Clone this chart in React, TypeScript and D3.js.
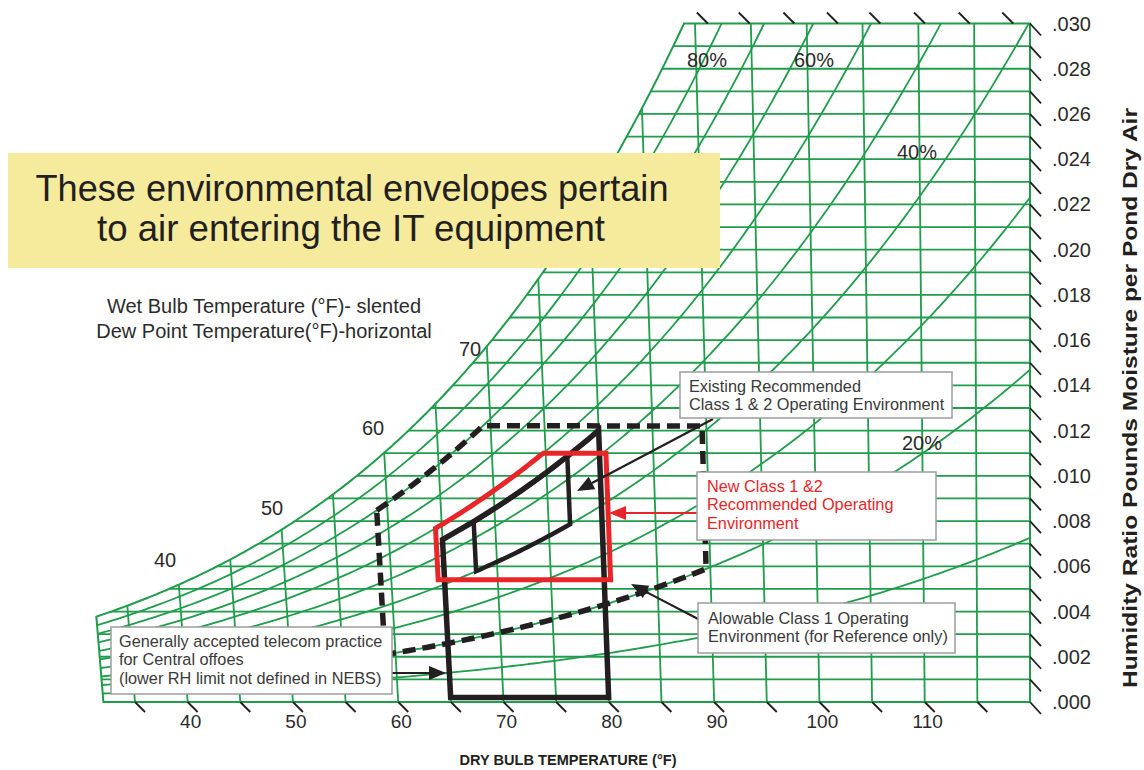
import React from 'react';
import * as d3 from 'd3';

// ---------- data ----------
const rhLevels = [0.1, 0.2, 0.3, 0.4, 0.5, 0.6, 0.7, 0.8, 0.9];
const dryBulbGrid = [35, 40, 45, 50, 55, 60, 65, 70, 75, 80, 85, 90, 95, 100, 105, 110, 115];
const humidityGrid = [
  0.001, 0.002, 0.003, 0.004, 0.005, 0.006, 0.007, 0.008, 0.009, 0.01, 0.011, 0.012, 0.013, 0.014, 0.015,
  0.016, 0.017, 0.018, 0.019, 0.02, 0.021, 0.022, 0.023, 0.024, 0.025, 0.026, 0.027, 0.028, 0.029,
];
const xTickLabels = [40, 50, 60, 70, 80, 90, 100, 110];
const bottomTickTemps = [35, 40, 45, 50, 55, 60, 65, 70, 75, 80, 85, 90, 95, 100, 105, 110, 115];
const topTickTemps = [91.15, 94.9, 98.9, 102.8, 106.6, 110.6, 114.6, 118.5];
const yTickValues = [0, 0.002, 0.004, 0.006, 0.008, 0.01, 0.012, 0.014, 0.016, 0.018, 0.02, 0.022, 0.024, 0.026, 0.028, 0.03];
const yTickLabels = ['.000', '.002', '.004', '.006', '.008', '.010', '.012', '.014', '.016', '.018', '.020', '.022', '.024', '.026', '.028', '.030'];
const dewPointLabels = ['40', '50', '60', '70'];
const rhLabelTexts = ['80%', '60%', '40%', '20%'];

// envelopes: t = dry bulb (F), w = humidity ratio, rh = relative humidity, along = follows RH curve
const telecomEnvelope = [
  { t: 65, w: 0.0002 },
  { t: 80, w: 0.0002 },
  { t: 80, rh: 0.55 },
  { t: 65, rh: 0.55, along: 0.55 },
];
const existingEnvelope = [
  { t: 68, rh: 0.4 },
  { t: 77, rh: 0.4, along: 0.4 },
  { t: 77, rh: 0.55 },
  { t: 68, rh: 0.55, along: 0.55 },
];
const allowableEnvelope = [
  { t: 59, rh: 0.8 },
  { t: 69.3, w: 0.0122, along: 0.8 },
  { t: 89.6, w: 0.0122 },
  { t: 89.6, rh: 0.2 },
  { t: 59, rh: 0.2, along: 0.2 },
];
const newEnvelope = [
  { t: 64.4, w: 0.0054 },
  { t: 80.6, w: 0.0054 },
  { t: 80.6, w: 0.011 },
  { t: 74.8, w: 0.011 },
  { t: 64.4, rh: 0.6, along: 0.6 },
];

// ---------- layout ----------
const W = 1144;
const H = 770;
const GREEN = '#1f9d4a';
const FONT = "'Liberation Sans', Arial, Helvetica, sans-serif";
const dewLabelPos = [
  [165, 560],
  [272, 508],
  [373, 428],
  [470, 349],
];
const rhLabelPos = [
  [707, 67],
  [814, 67],
  [917, 159],
  [922, 450],
];

// ---------- psychrometrics ----------
const P_ATM = 101.325;
function satPressure(tF: number) {
  const c = (tF - 32) / 1.8;
  return 0.61094 * Math.exp((17.625 * c) / (c + 243.04));
}
function humidityRatio(tF: number, rh: number) {
  const pw = rh * satPressure(tF);
  return (0.622 * pw) / (P_ATM - pw);
}
function satTempForW(w: number) {
  let lo = 0, hi = 140;
  for (let i = 0; i < 60; i++) {
    const m = (lo + hi) / 2;
    if (humidityRatio(m, 1) < w) lo = m; else hi = m;
  }
  return (lo + hi) / 2;
}

// ---------- scales ----------
const xAtBottom = d3.scaleLinear().domain([35, 120]).range([135, 1030]);
const xAtTop = d3.scaleLinear().domain([90, 120]).range([695, 1030]);
const yScale = d3.scaleLinear().domain([0, 0.03]).range([702, 23.5]);
const px = (t: number, w: number) => {
  const f = w / 0.03;
  return xAtBottom(t) * (1 - f) + xAtTop(t) * f;
};
const pt = (t: number, w: number): [number, number] => [px(t, w), yScale(w)];
const line = d3.line();

function envelopePath(verts: any[]) {
  const pts: [number, number][] = [];
  let prev: any = null;
  verts.forEach((v) => {
    const w = v.w != null ? v.w : humidityRatio(v.t, v.rh);
    if (v.along != null && prev) {
      const n = 30;
      for (let k = 1; k <= n; k++) {
        const t = prev.t + ((v.t - prev.t) * k) / n;
        pts.push(pt(t, humidityRatio(t, v.along)));
      }
    } else pts.push(pt(v.t, w));
    prev = { t: v.t, w };
  });
  return line(pts) + 'Z';
}

const T_MIN = 32;
const T_MAX = 120;
const W_MAX = 0.03;
const satTop = satTempForW(W_MAX);
const satPts: [number, number][] = d3
  .range(T_MIN, satTop, 0.25)
  .map((t) => pt(t, humidityRatio(t, 1)))
  .concat([pt(satTop, W_MAX)]);
const chartOutline: [number, number][] = [
  pt(T_MIN, 0),
  pt(T_MAX, 0),
  pt(T_MAX, W_MAX),
  ...satPts.slice().reverse(),
];
const outlinePath = line(chartOutline) + 'Z';

const rhPaths = rhLevels.map((rh) =>
  line(d3.range(T_MIN, T_MAX + 0.01, 0.5).map((t) => pt(t, Math.min(humidityRatio(t, rh), 0.04))))
);

function Arrow({ x1, y1, x2, y2, color, width = 2.2, head = 17, hw = 7 }: any) {
  const ang = Math.atan2(y2 - y1, x2 - x1);
  const bx = x2 - head * Math.cos(ang);
  const by = y2 - head * Math.sin(ang);
  const nx = -Math.sin(ang) * hw;
  const ny = Math.cos(ang) * hw;
  return (
    <g>
      <line x1={x1} y1={y1} x2={bx} y2={by} stroke={color} strokeWidth={width} />
      <polygon points={`${x2},${y2} ${bx + nx},${by + ny} ${bx - nx},${by - ny}`} fill={color} />
    </g>
  );
}

function NoteBox({ x, y, w, h, lines, color = '#3a3a3a', size = 16.3, lh = 18.3, tx = 9, ty = 20 }: any) {
  return (
    <g>
      <rect x={x} y={y} width={w} height={h} fill="#fff" stroke="#9d9d9d" strokeWidth={1.5} />
      {lines.map((s: string, i: number) => (
        <text key={i} x={x + tx} y={y + ty + i * lh} fontSize={size} fill={color} fontFamily={FONT}>
          {s}
        </text>
      ))}
    </g>
  );
}

export default function App() {
  return (
    <svg width={W} height={H} viewBox={`0 0 ${W} ${H}`} style={{ display: 'block', position: 'absolute', left: 0, top: 0 }}>
      <rect x={0} y={0} width={W} height={H} fill="#fff" />
      <defs>
        <clipPath id="chartClip">
          <path d={outlinePath} />
        </clipPath>
      </defs>

      {/* green psychrometric grid */}
      <g clipPath="url(#chartClip)" stroke={GREEN} strokeWidth={1.8} fill="none">
        {humidityGrid.map((w) => (
          <line key={'h' + w} x1={px(T_MIN, w)} y1={yScale(w)} x2={px(T_MAX, w)} y2={yScale(w)} />
        ))}
        {dryBulbGrid.map((t) => (
          <line key={'v' + t} x1={px(t, 0)} y1={yScale(0)} x2={px(t, W_MAX)} y2={yScale(W_MAX)} />
        ))}
        {rhPaths.map((d, i) => (
          <path key={'rh' + i} d={d || ''} />
        ))}
      </g>
      <path d={outlinePath} fill="none" stroke={GREEN} strokeWidth={2} />

      {/* ticks */}
      <g stroke="#231f20" strokeWidth={1.8}>
        {bottomTickTemps.map((t) => (
          <line key={'bt' + t} x1={px(t, 0)} y1={yScale(0)} x2={px(t, 0) + 10} y2={yScale(0) + 10} />
        ))}
        {topTickTemps.map((t) => (
          <line key={'tt' + t} x1={px(t, W_MAX) - 11} y1={yScale(W_MAX) - 11} x2={px(t, W_MAX)} y2={yScale(W_MAX)} />
        ))}
        {[0, ...humidityGrid, W_MAX].map((w) => (
          <line key={'rt' + w} x1={px(T_MAX, w)} y1={yScale(w)} x2={px(T_MAX, w) + 11} y2={yScale(w) + 12} />
        ))}
      </g>

      {/* axis labels */}
      <g fontFamily={FONT} fill="#2b2b2b">
        {xTickLabels.map((t) => (
          <text key={'xl' + t} x={px(t, 0) + 3} y={728} fontSize={19} textAnchor="middle">
            {t}
          </text>
        ))}
        {yTickValues.map((w, i) => (
          <text key={'yl' + i} x={1052} y={yScale(w) + 7} fontSize={20}>
            {yTickLabels[i]}
          </text>
        ))}
        {dewPointLabels.map((s, i) => (
          <text key={'dp' + s} x={dewLabelPos[i][0]} y={dewLabelPos[i][1] + 7} fontSize={20} textAnchor="middle">
            {s}
          </text>
        ))}
        {rhLabelTexts.map((s, i) => (
          <text key={'rl' + s} x={rhLabelPos[i][0]} y={rhLabelPos[i][1]} fontSize={20} textAnchor="middle">
            {s}
          </text>
        ))}
        <text x={568} y={765} fontSize={15} fontWeight="bold" textAnchor="middle" fill="#231f20" textLength={217} lengthAdjust="spacingAndGlyphs">
          DRY BULB TEMPERATURE (°F)
        </text>
        <text
          transform="translate(1137,398) rotate(-90)"
          fontSize={20}
          fontWeight="bold"
          textAnchor="middle"
          fill="#231f20"
          textLength={580}
          lengthAdjust="spacingAndGlyphs"
        >
          Humidity Ratio Pounds Moisture per Pond Dry Air
        </text>
        <text x={264} y={313} fontSize={20} textAnchor="middle">
          Wet Bulb Temperature (°F)- slented
        </text>
        <text x={264} y={338} fontSize={20} textAnchor="middle">
          Dew Point Temperature(°F)-horizontal
        </text>
      </g>

      {/* banner */}
      <rect x={8} y={153} width={712} height={115} fill="#f6eb9c" />
      <g fontFamily={FONT} fill="#231f20" fontSize={36} textAnchor="middle">
        <text x={352} y={201} textLength={633} lengthAdjust="spacingAndGlyphs">
          These environmental envelopes pertain
        </text>
        <text x={351} y={241} textLength={508} lengthAdjust="spacingAndGlyphs">
          to air entering the IT equipment
        </text>
      </g>

      {/* envelopes */}
      <path d={envelopePath(telecomEnvelope)} fill="none" stroke="#231f20" strokeWidth={5.5} strokeLinejoin="miter" />
      <path d={envelopePath(existingEnvelope)} fill="none" stroke="#231f20" strokeWidth={4.5} strokeLinejoin="miter" />
      <path d={envelopePath(allowableEnvelope)} fill="none" stroke="#231f20" strokeWidth={5.5} strokeDasharray="13 7" />
      <path d={envelopePath(newEnvelope)} fill="none" stroke="#e8262a" strokeWidth={5} strokeLinejoin="miter" />

      {/* arrows */}
      <Arrow x1={713} y1={419} x2={577} y2={491} color="#231f20" />
      <Arrow x1={697} y1={513} x2={609} y2={513} color="#e8262a" />
      <Arrow x1={700} y1={620} x2={631} y2={584} color="#231f20" />
      <Arrow x1={392} y1={673} x2={446} y2={673} color="#231f20" />

      {/* note boxes */}
      <NoteBox x={680} y={372} w={272} h={46} lines={['Existing Recommended', 'Class 1 & 2 Operating Environment']} ty={20} />
      <NoteBox
        x={697}
        y={472}
        w={239}
        h={68}
        lines={['New Class 1 &2', 'Recommended Operating', 'Environment']}
        color="#e8262a"
        tx={10}
        ty={20}
      />
      <NoteBox x={698} y={603} w={257} h={50} lines={['Alowable Class 1 Operating', 'Environment (for Reference only)']} tx={10} ty={21} />
      <NoteBox
        x={111}
        y={627}
        w={281}
        h={67}
        lines={['Generally accepted telecom practice', 'for Central offoes', '(lower RH limit not defined in NEBS)']}
        tx={8}
        ty={20}
      />
    </svg>
  );
}
